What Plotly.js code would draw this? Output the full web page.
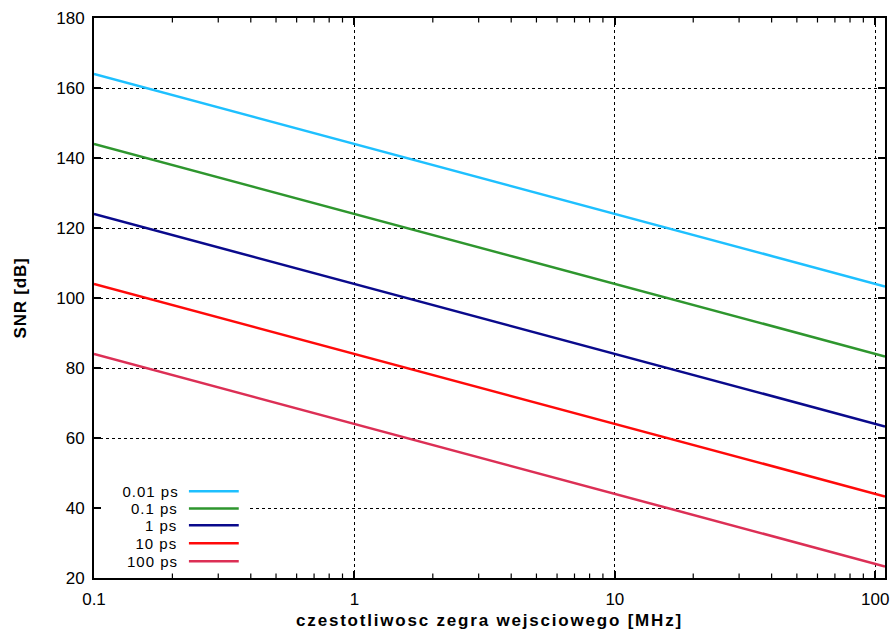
<!DOCTYPE html>
<html>
<head>
<meta charset="utf-8">
<script src="https://cdn.plot.ly/plotly-3.0.1.min.js"></script>
<style>
html,body{margin:0;padding:0;background:#fff;}
#chart{width:892px;height:634px;}
#chart .xtitle{letter-spacing:1.8px;}
#chart .ytitle{letter-spacing:0.8px;}
#chart .annotation-text{letter-spacing:1px;}
</style>
</head>
<body>
<div id="chart"></div>
<script>
// Data (straight lines on a log x axis: end points)
var freqMHz = [0.1, 109];
var snr001 = [164.0, 103.3];
var snr01  = [144.0, 83.3];
var snr1   = [124.0, 63.3];
var snr10  = [104.0, 43.3];
var snr100 = [84.0, 23.3];
var seriesNames = ['0.01 ps', '0.1 ps', '1 ps', '10 ps', '100 ps'];
var seriesColors = ['#1ec0ff', '#2e962e', '#0a0a8c', '#ff0a0a', '#dc2f55'];
var xTickVals = [0.1, 1, 10, 100];
var xTickText = ['0.1', '1', '10', '100'];
var xMinorVals = [0.2, 0.3, 0.4, 0.5, 0.6, 0.7, 0.8, 0.9,
                  2, 3, 4, 5, 6, 7, 8, 9,
                  20, 30, 40, 50, 60, 70, 80, 90];
var yRange = [20, 180];

var FONT = 'Liberation Sans, Arial, Helvetica, sans-serif';
var XRANGE = [-1, Math.log10(109)];
var PLOT_H = 634 - 18 - 56;

var seriesY = [snr001, snr01, snr1, snr10, snr100];
var traces = seriesY.map(function (ys, i) {
  return {
    x: freqMHz, y: ys, type: 'scatter', mode: 'lines',
    name: seriesNames[i],
    line: {color: seriesColors[i], width: 2.5},
    showlegend: false, hoverinfo: 'skip'
  };
});

// custom legend (text right-aligned, sample line to the right), gnuplot style
var legendRowsY = [0.155, 0.124, 0.094, 0.062, 0.030];
var shapes = [{
  // white box behind the key, covering the gridlines (between grid and traces)
  type: 'rect', xref: 'x', yref: 'y',
  x0: 0.1, x1: 0.39, y0: 20.3, y1: 48,
  fillcolor: '#ffffff', line: {width: 0}, layer: 'between'
}];
// minor tick marks (inside, bottom and top), positioned on the axis scales
var minorLen = (yRange[1] - yRange[0]) / PLOT_H * 4.5;
xMinorVals.forEach(function (v) {
  shapes.push({type: 'line', xref: 'x', yref: 'y', x0: v, x1: v,
               y0: yRange[0], y1: yRange[0] + minorLen,
               line: {color: '#000', width: 1.2}, layer: 'above'});
  shapes.push({type: 'line', xref: 'x', yref: 'y', x0: v, x1: v,
               y0: yRange[1] - minorLen, y1: yRange[1],
               line: {color: '#000', width: 1.2}, layer: 'above'});
});
var annotations = [];
seriesNames.forEach(function (nm, i) {
  shapes.push({
    type: 'line', xref: 'x domain', yref: 'y domain',
    x0: 0.120, x1: 0.183, y0: legendRowsY[i], y1: legendRowsY[i],
    line: {color: seriesColors[i], width: 2.5}, layer: 'above'
  });
  annotations.push({
    xref: 'x domain', yref: 'y domain', x: 0.105, y: legendRowsY[i],
    xanchor: 'right', yanchor: 'middle', text: nm, showarrow: false,
    font: {family: FONT, size: 15, color: '#000'}
  });
});

var layout = {
  width: 892, height: 634,
  margin: {l: 94, r: 7, t: 18, b: 56},
  paper_bgcolor: '#fff', plot_bgcolor: '#fff',
  font: {family: FONT, size: 17, color: '#000'},
  showlegend: false,
  xaxis: {
    type: 'log', range: XRANGE,
    tickmode: 'array', tickvals: xTickVals, ticktext: xTickText,
    ticks: 'inside', ticklen: 7, tickwidth: 2, tickcolor: '#000',
    ticklabelstandoff: 5,
    showline: true, linewidth: 2, linecolor: '#000', mirror: 'ticks',
    showgrid: true, gridcolor: '#000', gridwidth: 1, griddash: 'dot',
    zeroline: false,
    title: {text: 'czestotliwosc zegra wejsciowego [MHz]', standoff: 6,
            font: {family: FONT, size: 17, weight: 'bold'}}
  },
  yaxis: {
    range: yRange, dtick: 20, tick0: 20,
    ticks: 'inside', ticklen: 7, tickwidth: 2, tickcolor: '#000',
    showline: true, linewidth: 2, linecolor: '#000', mirror: 'ticks',
    showgrid: true, gridcolor: '#000', gridwidth: 1, griddash: 'dot',
    zeroline: false, ticklabelstandoff: 4,
    title: {text: 'SNR [dB]', standoff: 25,
            font: {family: FONT, size: 17, weight: 'bold'}}
  },
  shapes: shapes,
  annotations: annotations
};

Plotly.newPlot('chart', traces, layout, {displayModeBar: false, staticPlot: true});
</script>
</body>
</html>
